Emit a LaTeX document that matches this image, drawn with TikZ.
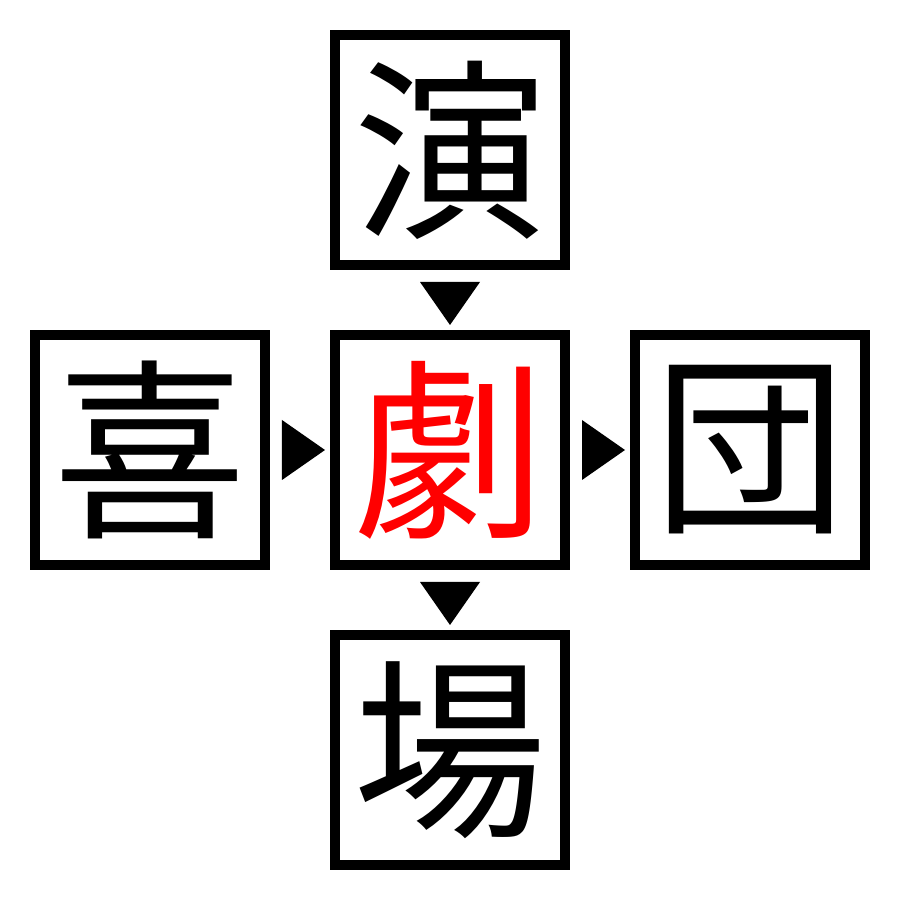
\documentclass[tikz,border=0pt]{standalone}
\usepackage{fontspec}
\newfontfamily\cjk{Noto Sans CJK JP}
\usetikzlibrary{positioning,calc}

\tikzset{
  kanji/.style={draw=black, line width=0.1cm, minimum size=2.3cm, inner sep=0pt,
                outer sep=0.05cm, font=\cjk\fontsize{55}{55}\selectfont},
}

\begin{document}
\begin{tikzpicture}
  \useasboundingbox (0,0) rectangle (9,9);

  % middle row
  \node[kanji, text=red]          (geki)  at (4.5,4.5) {劇};
  \node[kanji, left=0.6cm of geki]  (ki)    {喜};
  \node[kanji, right=0.6cm of geki] (dan)   {団};
  \node[kanji, above=0.6cm of geki] (en)    {演};
  \node[kanji, below=0.6cm of geki] (jo)    {場};

  % triangles in the gaps
  \fill ($(en.south)+(-0.3,-0.12)$) -- ($(en.south)+(0.3,-0.12)$) -- ($(en.south)+(0,-0.55)$) -- cycle;
  \fill ($(geki.south)+(-0.3,-0.12)$) -- ($(geki.south)+(0.3,-0.12)$) -- ($(geki.south)+(0,-0.55)$) -- cycle;
  \fill ($(ki.east)+(0.12,0.3)$) -- ($(ki.east)+(0.12,-0.3)$) -- ($(ki.east)+(0.55,0)$) -- cycle;
  \fill ($(geki.east)+(0.12,0.3)$) -- ($(geki.east)+(0.12,-0.3)$) -- ($(geki.east)+(0.55,0)$) -- cycle;

\end{tikzpicture}
\end{document}
